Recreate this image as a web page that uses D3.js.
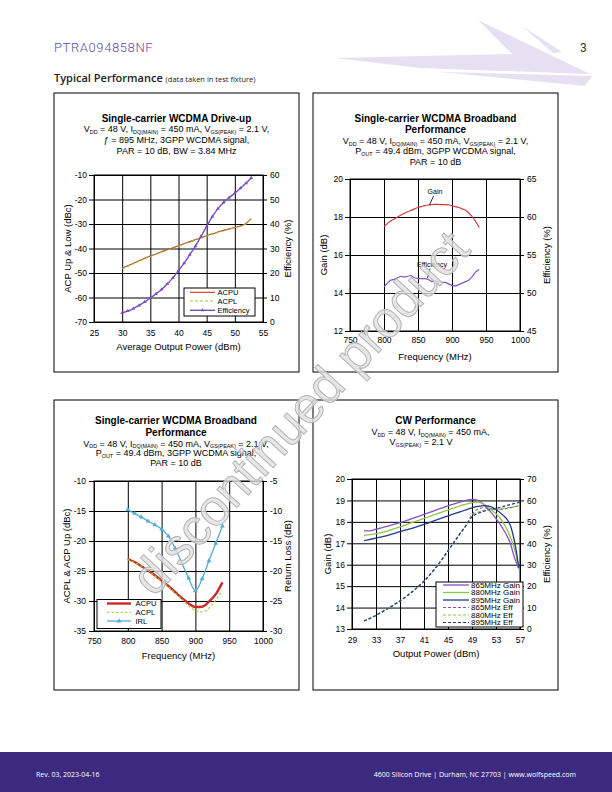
<!DOCTYPE html>
<html><head><meta charset="utf-8">
<script src="https://cdn.jsdelivr.net/npm/d3@7"></script>
<style>body{margin:0;background:#fff}svg{display:block}</style>
</head><body>
<script>
// ---------- DATA ----------
// Chart 1: Single-carrier WCDMA Drive-up
const c1Power = [30,31,32,33,34,35,36,37,38,39,40,41,42,43,44,45,46,47,48,49,50,51,52,52.9];
const c1ACPU  = [-48,-47,-46,-45,-44,-43.1,-42.2,-41.3,-40.5,-39.7,-38.9,-38,-37.2,-36.4,-35.6,-34.8,-34,-33.3,-32.6,-32,-31.4,-30.8,-29.8,-27.8];
const c1ACPL  = [-48.3,-47.3,-46.2,-45.2,-44.2,-43.3,-42.4,-41.5,-40.7,-39.9,-39.1,-38.2,-37.4,-36.6,-35.8,-35,-34.2,-33.5,-32.8,-32.1,-31.5,-30.9,-29.9,-27.6];
const c1Eff   = [3.7,4.5,5.5,6.8,8.2,9.8,11.5,13.3,15.5,18,21,24,27.5,31,35,39,43,46.3,48.8,50.8,52.6,54.6,56.7,58.8];
const c1XTicks = [25,30,35,40,45,50,55];
const c1YLTicks = [-70,-60,-50,-40,-30,-20,-10];
const c1YRTicks = [0,10,20,30,40,50,60];

// Chart 2: Broadband Gain / Efficiency
const c2Freq = [800,805,810,815,820,825,830,835,840,845,850,855,860,865,870,875,880,885,890,895,900,905,910,915,920,925,930,935,940];
const c2Gain = [17.5,17.65,17.8,17.9,18.0,18.1,18.2,18.28,18.35,18.43,18.5,18.55,18.6,18.63,18.65,18.66,18.66,18.65,18.65,18.63,18.6,18.55,18.5,18.43,18.35,18.2,18.0,17.75,17.45];
const c2Eff  = [50.8,51.3,51.7,51.8,52.0,52.2,52.1,52.2,52.3,52.0,51.9,51.9,51.9,51.8,51.5,51.6,51.5,51.4,51.4,51.2,51.0,50.9,51.1,51.3,51.5,51.7,52.2,52.8,53.1];
const c2XTicks = [750,800,850,900,950,1000];
const c2YLTicks = [12,14,16,18,20];
const c2YRTicks = [45,50,55,60,65];

// Chart 3: Broadband ACP / IRL
const c3Freq = [800,810,820,830,840,850,860,870,880,890,900,910,920,930,940];
const c3ACPU = [-23,-23.5,-24.2,-24.9,-25.7,-26.6,-27.5,-28.5,-29.5,-30.4,-31,-30.95,-30.1,-28.9,-26.9];
const c3ACPL = [-23.1,-23.6,-24.2,-24.9,-25.8,-26.7,-27.6,-28.7,-29.7,-30.8,-31.6,-31.8,-31.2,-29.9,-28.2];
const c3IRL  = [-9.8,-10.4,-11.0,-11.7,-12.3,-13.0,-14.2,-16.2,-18.7,-21.2,-23.3,-21.3,-18.3,-15.4,-12.5];
const c3XTicks = [750,800,850,900,950,1000];
const c3YLTicks = [-35,-30,-25,-20,-15,-10];
const c3YRTicks = [-30,-25,-20,-15,-10,-5];

// Chart 4: CW Performance
const c4GainPower = [31,32,33,35,37,39,41,43,45,47,48,49,50,51,52,53,54,55,55.5,56,56.4,56.8];
const c4Gain865 = [17.58,17.58,17.66,17.8,17.96,18.15,18.35,18.55,18.75,18.92,19.0,19.05,19.0,18.8,18.5,18.15,17.75,17.25,16.9,16.4,16.1,15.8];
const c4Gain880 = [17.37,17.4,17.45,17.58,17.76,17.96,18.16,18.36,18.55,18.74,18.83,18.9,18.92,18.82,18.62,18.38,18.05,17.55,17.2,16.8,16.4,15.8];
const c4Gain895 = [17.12,17.18,17.24,17.37,17.54,17.7,17.88,18.08,18.28,18.47,18.56,18.65,18.72,18.76,18.72,18.58,18.35,18.05,17.75,17.2,16.6,15.85];
const c4EffPower = [31,32,33,34,35,36,37,38,39,40,41,42,43,44,45,46,47,48,49,50,51,52,53,54,55,56,57];
const c4Eff865 = [3.7,5,6.4,8,9.6,11.3,13.1,15.1,17.3,19.7,22.3,25.4,28.8,32.5,36.5,40.5,44.5,48.3,53.5,56,56.6,56.2,55.8,55.9,56.4,57,57.6];
const c4Eff880 = [3.7,5,6.4,8,9.6,11.3,13.1,15.1,17.3,19.7,22.3,25.4,28.8,32.5,36.5,40.5,44.5,48.3,52.8,54.6,55.3,55.6,55.9,56.2,56.6,57.1,57.7];
const c4Eff895 = [3.7,5,6.4,8,9.6,11.3,13.1,15.1,17.3,19.7,22.3,25.4,28.8,32.5,36.5,40.5,44.5,48.3,52.3,54,55,55.8,56.4,57,57.8,58.5,59.1];
const c4XTicks = [29,33,37,41,45,49,53,57];
const c4YLTicks = [13,14,15,16,17,18,19,20];
const c4YRTicks = [0,10,20,30,40,50,60,70];

// ---------- DRAWING ----------
const FONT = '"Liberation Sans", Arial, Helvetica, sans-serif';
const W = 612, H = 792;
const svg = d3.select('body').append('svg').attr('width', W).attr('height', H).attr('font-family', FONT);

// header logo (faint)
const logoCol = '#e5e0f2';
[[[335,58],[512,54],[478,20],[590,74],[420,68]],
 [[522,26],[562,52],[553,53]],
 [[440,72],[592,76],[585,86]]].forEach(p => {
  svg.append('polygon').attr('points', p.map(d => d.join(',')).join(' ')).attr('fill', logoCol);
});
svg.append('text').attr('x', 54).attr('y', 52).attr('font-family', 'Roboto, "Open Sans", sans-serif')
  .attr('font-weight', 300).attr('font-size', 13).attr('letter-spacing', 0.6).attr('fill', '#5a4ea8').text('PTRA094858NF');
svg.append('text').attr('x', 580).attr('y', 52).attr('font-family', 'Roboto, sans-serif')
  .attr('font-size', 12).attr('fill', '#333').text('3');
const tp = svg.append('text').attr('x', 54).attr('y', 82).attr('font-family', '"Open Sans", Lato, sans-serif').attr('fill', '#222');
tp.append('tspan').attr('font-size', 11).attr('font-weight', 600).text('Typical Performance ');
tp.append('tspan').attr('font-size', 7.5).text('(data taken in test fixture)');

// footer
svg.append('rect').attr('x', 0).attr('y', 752).attr('width', W).attr('height', 40).attr('fill', '#3c2a7f');
svg.append('text').attr('x', 36).attr('y', 777).attr('font-family', '"Open Sans", Lato, sans-serif')
  .attr('font-size', 7).attr('font-weight', 500).attr('fill', '#fff').text('Rev. 03, 2023-04-16');
svg.append('text').attr('x', 576).attr('y', 777).attr('text-anchor', 'end').attr('font-family', '"Open Sans", Lato, sans-serif')
  .attr('font-size', 7).attr('font-weight', 500).attr('fill', '#fff').text('4600 Silicon Drive  |  Durham, NC 27703  |  www.wolfspeed.com');

// rich text (subscripts)
function rich(g, x, y, parts, fs, bold) {
  const t = g.append('text').attr('x', x).attr('y', y).attr('text-anchor', 'middle')
    .attr('font-size', fs).attr('font-weight', bold ? 'bold' : 'normal').attr('fill', '#000');
  let shifted = false;
  parts.forEach(p => {
    const sub = Array.isArray(p);
    const s = sub ? p[0] : p;
    const ts = t.append('tspan').text(s);
    if (sub) {
      ts.attr('font-size', fs * 0.6);
      if (!shifted) { ts.attr('dy', 1.5); shifted = true; }
    } else if (shifted) { ts.attr('dy', -1.5); shifted = false; }
  });
  return t;
}

function frame(c) {
  const g = svg.append('g');
  g.append('rect').attr('x', c.box[0]).attr('y', c.box[1]).attr('width', c.box[2]).attr('height', c.box[3])
    .attr('fill', 'none').attr('stroke', '#000').attr('stroke-width', 1);
  const x = d3.scaleLinear().domain(c.xd).range(c.px);
  const yL = d3.scaleLinear().domain(c.yLd).range([c.py[1], c.py[0]]);
  const yR = d3.scaleLinear().domain(c.yRd).range([c.py[1], c.py[0]]);
  const pw = c.px[1] - c.px[0], ph = c.py[1] - c.py[0];
  const clean = s => { s.select('.domain').remove(); s.selectAll('line').attr('stroke', '#000').attr('stroke-width', 1); };
  g.append('g').attr('transform', `translate(0,${c.py[1]})`)
    .call(d3.axisBottom(x).tickValues(c.xt).tickSize(-ph).tickFormat('')).call(clean);
  g.append('g').attr('transform', `translate(${c.px[0]},0)`)
    .call(d3.axisLeft(yL).tickValues(c.yLt).tickSize(-pw).tickFormat('')).call(clean);
  g.append('rect').attr('x', c.px[0]).attr('y', c.py[0]).attr('width', pw).attr('height', ph)
    .attr('fill', 'none').attr('stroke', '#000').attr('stroke-width', 1);
  const fs = 8.5, fmt = d => String(d);
  const style = s => { s.select('.domain').remove(); s.attr('font-size', fs).attr('font-family', FONT);
    s.selectAll('line').attr('stroke', '#000'); s.selectAll('text').attr('fill', '#000'); };
  g.append('g').attr('transform', `translate(0,${c.py[1]})`)
    .call(d3.axisBottom(x).tickValues(c.xt).tickSize(0).tickPadding(c.xpad).tickFormat(fmt)).call(style);
  g.append('g').attr('transform', `translate(${c.px[0]},0)`)
    .call(d3.axisLeft(yL).tickValues(c.yLt).tickSize(c.tl).tickPadding(c.lpad).tickFormat(fmt)).call(style);
  g.append('g').attr('transform', `translate(${c.px[1]},0)`)
    .call(d3.axisRight(yR).tickValues(c.yRt).tickSize(c.tr).tickPadding(c.rpad).tickFormat(fmt)).call(style);
  // axis titles
  const cy = (c.py[0] + c.py[1]) / 2;
  g.append('text').attr('x', (c.px[0] + c.px[1]) / 2).attr('y', c.xly).attr('text-anchor', 'middle')
    .attr('font-size', 9.5).text(c.xl);
  g.append('text').attr('transform', `translate(${c.ylx},${cy}) rotate(-90)`).attr('text-anchor', 'middle')
    .attr('font-size', 9.5).text(c.yl);
  g.append('text').attr('transform', `translate(${c.yrx},${cy}) rotate(-90)`).attr('text-anchor', 'middle')
    .attr('font-size', 9.5).text(c.yr);
  return { g, x, yL, yR };
}

function series(g, xs, ys, xS, yS, st) {
  const pts = xs.map((v, i) => [v, ys[i]]);
  const line = d3.line().x(d => xS(d[0])).y(d => yS(d[1])).curve(st.curve || d3.curveMonotoneX);
  g.append('path').attr('d', line(pts)).attr('fill', 'none').attr('stroke', st.color)
    .attr('stroke-width', st.width || 1.2).attr('stroke-dasharray', st.dash || null);
  if (st.marker) {
    g.selectAll(null).data(pts).enter().append('path')
      .attr('transform', d => `translate(${xS(d[0])},${yS(d[1])})`)
      .attr('d', d3.symbol().type(d3.symbolTriangle).size(st.marker)).attr('fill', st.color);
  }
}

function legend(g, box, lx0, lx1, tx, fs, items) {
  g.append('rect').attr('x', box[0]).attr('y', box[1]).attr('width', box[2]).attr('height', box[3])
    .attr('fill', '#fff').attr('stroke', '#000').attr('stroke-width', 1);
  items.forEach(it => {
    g.append('line').attr('x1', lx0).attr('x2', lx1).attr('y1', it.y).attr('y2', it.y)
      .attr('stroke', it.color).attr('stroke-width', it.width || 1.2).attr('stroke-dasharray', it.dash || null);
    if (it.marker) g.append('path').attr('transform', `translate(${(lx0 + lx1) / 2},${it.y})`)
      .attr('d', d3.symbol().type(d3.symbolTriangle).size(it.marker)).attr('fill', it.color);
    g.append('text').attr('x', tx).attr('y', it.y + fs * 0.36).attr('font-size', fs).text(it.label);
  });
}

// ----- Chart 1 -----
{
  const c = frame({ box: [54, 93, 245, 279], px: [94, 263], py: [175, 322], xd: [25, 55], xt: c1XTicks,
    yLd: [-70, -10], yLt: c1YLTicks, yRd: [0, 60], yRt: c1YRTicks, xpad: 7.5, tl: 5, lpad: 2, tr: 4, rpad: 3,
    xl: 'Average Output Power (dBm)', xly: 350, yl: 'ACP Up & Low (dBc)', ylx: 71, yr: 'Efficiency (%)', yrx: 290.5 });
  const cx = 176.5;
  rich(c.g, cx, 122, ['Single-carrier WCDMA Drive-up'], 10, true);
  rich(c.g, cx, 132, ['V', ['DD'], ' = 48 V, I', ['DQ(MAIN)'], ' = 450 mA, V', ['GS(PEAK)'], ' = 2.1 V,'], 9);
  rich(c.g, cx, 143, ['ƒ = 895 MHz, 3GPP WCDMA signal,'], 9);
  rich(c.g, cx, 153.5, ['PAR = 10 dB, BW = 3.84 MHz'], 9);
  series(c.g, c1Power, c1ACPU, c.x, c.yL, { color: '#c8352e', width: 1.1 });
  series(c.g, c1Power, c1ACPL, c.x, c.yL, { color: '#8fcc2a', width: 1.1, dash: '3,2' });
  series(c.g, c1Power, c1Eff, c.x, c.yR, { color: '#7b4fc4', width: 1.4, marker: 6 });
  legend(c.g, [184, 288, 71, 28], 190, 215, 217.5, 7.5, [
    { y: 292.3, label: 'ACPU', color: '#c8352e', width: 1.1 },
    { y: 301, label: 'ACPL', color: '#8fcc2a', width: 1.1, dash: '3,2' },
    { y: 310.3, label: 'Efficiency', color: '#7b4fc4', width: 1.4, marker: 6 }]);
}

// ----- Chart 2 -----
{
  const c = frame({ box: [313, 93, 245, 279], px: [350, 520], py: [179, 331], xd: [750, 1000], xt: c2XTicks,
    yLd: [12, 20], yLt: c2YLTicks, yRd: [45, 65], yRt: c2YRTicks, xpad: 6, tl: 5, lpad: 2, tr: 4, rpad: 3,
    xl: 'Frequency (MHz)', xly: 360, yl: 'Gain (dB)', ylx: 326.5, yr: 'Efficiency (%)', yrx: 549.5 });
  const cx = 435.5;
  rich(c.g, cx, 122, ['Single-carrier WCDMA Broadband'], 10, true);
  rich(c.g, cx, 132.5, ['Performance'], 10, true);
  rich(c.g, cx, 144, ['V', ['DD'], ' = 48 V, I', ['DQ(MAIN)'], ' = 450 mA, V', ['GS(PEAK)'], ' = 2.1 V,'], 9);
  rich(c.g, cx, 154, ['P', ['OUT'], ' = 49.4 dBm, 3GPP WCDMA signal,'], 9);
  rich(c.g, cx, 164.5, ['PAR = 10 dB'], 9);
  series(c.g, c2Freq, c2Gain, c.x, c.yL, { color: '#d03a3a', width: 1.2 });
  series(c.g, c2Freq, c2Eff, c.x, c.yR, { color: '#7d55c7', width: 1.2, curve: d3.curveLinear });
  c.g.append('text').attr('x', 435).attr('y', 193.5).attr('text-anchor', 'middle').attr('font-size', 7).text('Gain');
  c.g.append('line').attr('x1', 433.5).attr('y1', 196).attr('x2', 429.5).attr('y2', 205).attr('stroke', '#000').attr('stroke-width', 0.8);
  c.g.append('text').attr('x', 432).attr('y', 266.5).attr('text-anchor', 'middle').attr('font-size', 7).text('Efficiency');
  c.g.append('line').attr('x1', 430).attr('y1', 268.5).attr('x2', 427.5).attr('y2', 278).attr('stroke', '#000').attr('stroke-width', 0.8);
}

// ----- Chart 3 -----
{
  const c = frame({ box: [54, 400, 245, 290], px: [94, 263], py: [481, 631], xd: [750, 1000], xt: c3XTicks,
    yLd: [-35, -10], yLt: c3YLTicks, yRd: [-30, -5], yRt: c3YRTicks, xpad: 7, tl: 5, lpad: 3, tr: 4, rpad: 3,
    xl: 'Frequency (MHz)', xly: 659, yl: 'ACPL & ACP Up (dBc)', ylx: 70, yr: 'Return Loss (dB)', yrx: 291 });
  const cx = 176;
  rich(c.g, cx, 424, ['Single-carrier WCDMA Broadband'], 10, true);
  rich(c.g, cx, 435.5, ['Performance'], 10, true);
  rich(c.g, cx, 446.5, ['V', ['DD'], ' = 48 V, I', ['DQ(MAIN)'], ' = 450 mA, V', ['GS(PEAK)'], ' = 2.1 V,'], 9);
  rich(c.g, cx, 456, ['P', ['OUT'], ' = 49.4 dBm, 3GPP WCDMA signal,'], 9);
  rich(c.g, cx, 465.5, ['PAR = 10 dB'], 9);
  series(c.g, c3Freq, c3ACPU, c.x, c.yL, { color: '#cc2929', width: 2.4 });
  series(c.g, c3Freq, c3ACPL, c.x, c.yL, { color: '#99cc33', width: 1.1, dash: '2.5,2' });
  series(c.g, c3Freq, c3IRL, c.x, c.yR, { color: '#52acd4', width: 1.3, marker: 10 });
  legend(c.g, [97, 599.5, 64, 29], 107, 131, 135.5, 7.5, [
    { y: 603.5, label: 'ACPU', color: '#cc2929', width: 2.4 },
    { y: 612.3, label: 'ACPL', color: '#99cc33', width: 1.1, dash: '2.5,2' },
    { y: 621, label: 'IRL', color: '#52acd4', width: 1.3, marker: 10 }]);
}

// ----- Chart 4 -----
{
  const c = frame({ box: [313, 400, 245, 290], px: [352, 520], py: [479, 629], xd: [29, 57], xt: c4XTicks,
    yLd: [13, 20], yLt: c4YLTicks, yRd: [0, 70], yRt: c4YRTicks, xpad: 7.7, tl: 5, lpad: 2, tr: 4, rpad: 3,
    xl: 'Output Power (dBm)', xly: 657, yl: 'Gain (dB)', ylx: 330.5, yr: 'Efficiency (%)', yrx: 549.5 });
  rich(c.g, 435.5, 424, ['CW Performance'], 10, true);
  rich(c.g, 430.5, 435, ['V', ['DD'], ' = 48 V, I', ['DQ(MAIN)'], ' = 450 mA,'], 9);
  rich(c.g, 421, 445, ['V', ['GS(PEAK)'], ' = 2.1 V'], 9);
  const col = { a: '#8a4fc8', b: '#8cc63f', c: '#1f3b8c' };
  series(c.g, c4EffPower, c4Eff865, c.x, c.yR, { color: col.a, width: 1.2, dash: '3,2' });
  series(c.g, c4EffPower, c4Eff880, c.x, c.yR, { color: col.b, width: 1.2, dash: '3,2' });
  series(c.g, c4EffPower, c4Eff895, c.x, c.yR, { color: col.c, width: 1.2, dash: '3,2' });
  series(c.g, c4GainPower, c4Gain865, c.x, c.yL, { color: col.a, width: 1.3 });
  series(c.g, c4GainPower, c4Gain880, c.x, c.yL, { color: col.b, width: 1.3 });
  series(c.g, c4GainPower, c4Gain895, c.x, c.yL, { color: col.c, width: 1.3 });
  legend(c.g, [436, 582, 87, 45], 443, 469, 471, 8, [
    { y: 585, label: '865MHz Gain', color: col.a, width: 1.3 },
    { y: 592.5, label: '880MHz Gain', color: col.b, width: 1.3 },
    { y: 600, label: '895MHz Gain', color: col.c, width: 1.3 },
    { y: 607.5, label: '865MHz Eff', color: col.a, width: 1.2, dash: '3,2' },
    { y: 615, label: '880MHz Eff', color: col.b, width: 1.2, dash: '3,2' },
    { y: 622.5, label: '895MHz Eff', color: col.c, width: 1.2, dash: '3,2' }]);
}

// watermark
svg.append('text').attr('transform', 'translate(154,598) rotate(-47.5)')
  .attr('font-size', 51).attr('font-family', FONT)
  .attr('fill', '#e0e0e0').attr('fill-opacity', 0.8).attr('stroke', '#b4b4b4').attr('stroke-width', 1)
  .text('discontinued product');
</script>
</body></html>
